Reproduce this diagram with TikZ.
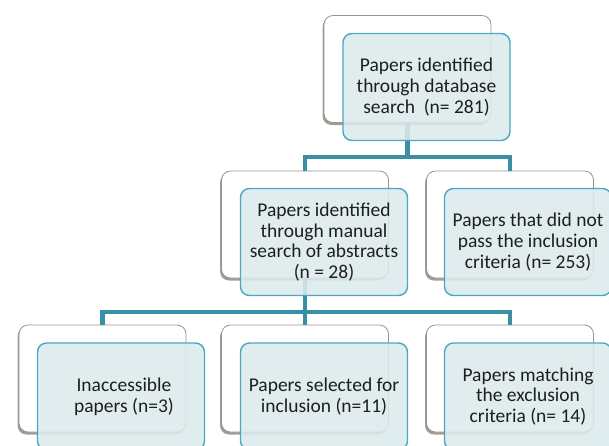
\documentclass[tikz,border=0pt]{standalone}
\usepackage{fontspec}
\setmainfont{Carlito}
\usetikzlibrary{shadows}
\definecolor{tealb}{HTML}{4AA8C2}
\definecolor{tealf}{HTML}{DCEAEC}
\definecolor{tealc}{HTML}{3A8FA6}
\definecolor{bgray}{HTML}{9A948C}
\definecolor{shad}{HTML}{847B70}
\definecolor{txt}{HTML}{1E1E1E}
\begin{document}
\begin{tikzpicture}[x=1pt,y=-1pt,
  backbox/.style={draw=bgray, fill=white, line width=0.8pt, rounded corners=9pt,
    minimum width=167pt, minimum height=107pt, inner sep=0pt,
    drop shadow={shadow xshift=-1.5pt, shadow yshift=-2.5pt, fill=shad, opacity=0.75}},
  frontbox/.style={draw=tealb, line width=1.4pt, fill=tealf, fill opacity=0.88, text opacity=1,
    rounded corners=9pt, minimum width=167pt, minimum height=107pt, inner sep=0pt,
    align=center, text=txt, font=\fontsize{19.5}{20.8}\selectfont},
  conn/.style={draw=tealc, line width=4.2pt, line join=miter}]
\useasboundingbox (0,0) rectangle (609,445);
\clip (0,0) rectangle (609,445);
% back boxes
\node[backbox] (topb) at (407.5,69) {};
\node[backbox] (mlb) at (305,224.5) {};
\node[backbox] (mrb) at (510,224.5) {};
\node[backbox] (b1b) at (102.5,378.5) {};
\node[backbox] (b2b) at (305,378.5) {};
\node[backbox] (b3b) at (510,378.5) {};
% connectors
\coordinate (j1) at (407.5,157);
\coordinate (j2) at (305,312);
\draw[conn] (topb.south) -- (j1);
\draw[conn] (mlb.north) |- (j1) -| (mrb.north);
\draw[conn] (mlb.south) -- (j2);
\draw[conn] (b1b.north) |- (j2) -| (b3b.north);
\draw[conn] (j2) -- (b2b.north);
% front boxes
\node[frontbox] (topf) at (426.5,87) {Papers identified\\through database\\search~ (n= 281)};
\node[frontbox] (mlf) at (324,242) {Papers identified\\through manual\\search of abstracts\\(n = 28)};
\node[frontbox] (mrf) at (528,242) {Papers that did not\\pass the inclusion\\criteria (n= 253)};
\node[frontbox] (b1f) at (121,396.5) {\hspace*{6pt}Inaccessible\\\hspace*{6pt}papers (n=3)};
\node[frontbox] (b2f) at (324,396.5) {Papers selected for\\inclusion (n=11)};
\node[frontbox] (b3f) at (528,396.5) {Papers matching\\the exclusion\\criteria (n= 14)};
\end{tikzpicture}
\end{document}
